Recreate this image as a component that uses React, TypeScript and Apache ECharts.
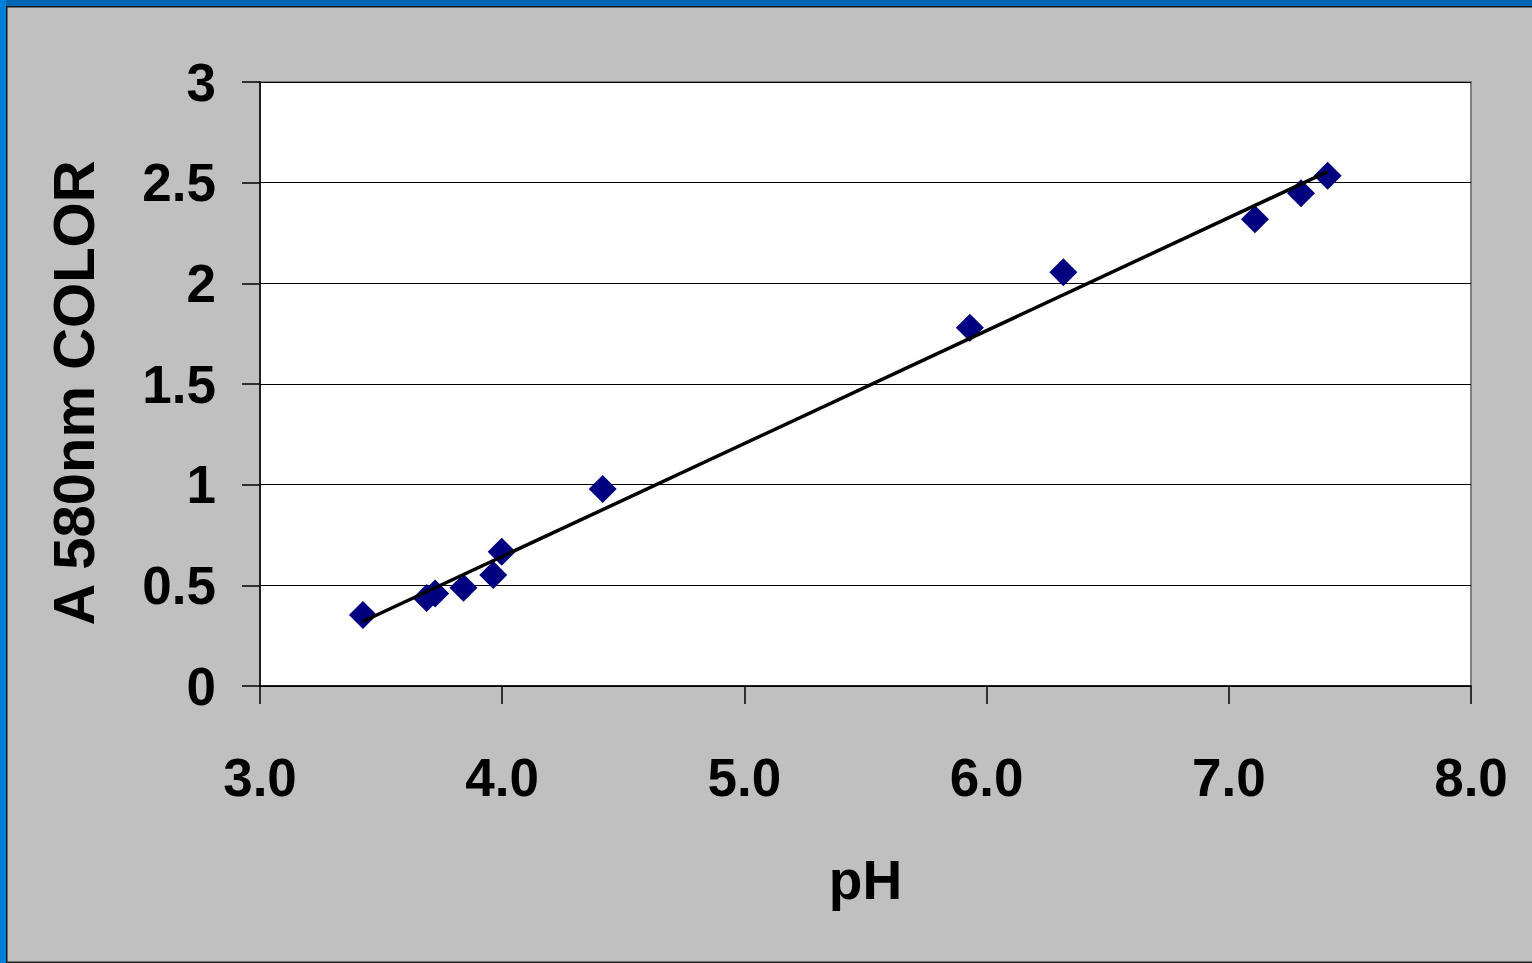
import React, { useEffect, useRef } from "react";
import * as echarts from "echarts";

const phValues = [3.425, 3.688, 3.723, 3.84, 3.963, 3.998, 4.415, 5.931, 6.317, 7.108, 7.298, 7.408];
const absValues = [0.353, 0.437, 0.46, 0.488, 0.551, 0.667, 0.979, 1.78, 2.055, 2.318, 2.448, 2.534];
const trendX = [3.422, 7.408];
const trendY = [0.319, 2.555];
const xTicks = ["3.0", "4.0", "5.0", "6.0", "7.0", "8.0"];
const xTitle = "pH";
const yTitle = "A 580nm COLOR";

const FONT = "'Liberation Sans', Arial, sans-serif";

export default function App() {
  const ref = useRef<HTMLDivElement>(null);
  useEffect(() => {
    if (!ref.current) return;
    const chart = echarts.init(ref.current, undefined, { renderer: "svg" });
    const points = phValues.map((x, i) => [x, absValues[i]]);
    const trend = trendX.map((x, i) => [x, trendY[i]]);
    chart.setOption({
      animation: false,
      backgroundColor: "#c0c0c0",
      textStyle: { fontFamily: FONT },
      graphic: [
        { type: "rect", shape: { x: 0, y: 0, width: 1532, height: 6 }, style: { fill: "#0066b2" }, z: 100 },
        { type: "rect", shape: { x: 0, y: 0, width: 6, height: 963 }, style: { fill: "#0080d8" }, z: 100 },
        { type: "rect", shape: { x: 6, y: 6, width: 1526, height: 1.5 }, style: { fill: "#111820" }, z: 100 },
        { type: "rect", shape: { x: 6, y: 6, width: 1.5, height: 957 }, style: { fill: "#111820" }, z: 100 },
        { type: "rect", shape: { x: 6, y: 961.5, width: 1526, height: 1.5 }, style: { fill: "#222" }, z: 100 },
      ],
      grid: {
        left: 260,
        right: 61,
        top: 82,
        bottom: 277,
        show: true,
        backgroundColor: "#ffffff",
        borderColor: "#808080",
        borderWidth: 2,
      },
      xAxis: {
        type: "value",
        min: 3,
        max: 8,
        interval: 1,
        name: xTitle,
        nameLocation: "middle",
        nameGap: 166,
        nameTextStyle: { fontSize: 55, fontWeight: "bold", color: "#000", fontFamily: FONT },
        axisLine: { lineStyle: { color: "#000", width: 1.5 } },
        axisTick: { show: true, length: 18, lineStyle: { color: "#000", width: 1.5 } },
        axisLabel: {
          fontSize: 53,
          fontWeight: "bold",
          color: "#000",
          margin: 65,
          fontFamily: FONT,
          formatter: (v: number) => xTicks[Math.round(v - 3)] ?? v.toFixed(1),
        },
        splitLine: { show: false },
      },
      yAxis: {
        type: "value",
        min: 0,
        max: 3,
        interval: 0.5,
        name: yTitle,
        nameLocation: "middle",
        nameGap: 158,
        nameRotate: 90,
        nameTextStyle: {
          fontSize: 58,
          fontWeight: "bold",
          color: "#000",
          fontFamily: FONT,
          padding: [0, 18, 0, 0],
        },
        axisLine: { show: true, lineStyle: { color: "#000", width: 1.5 } },
        axisTick: { show: true, length: 18, lineStyle: { color: "#000", width: 1.5 } },
        axisLabel: {
          fontSize: 53,
          fontWeight: "bold",
          color: "#000",
          margin: 44,
          fontFamily: FONT,
        },
        splitLine: { show: true, lineStyle: { color: "#000", width: 1.2 } },
      },
      series: [
        {
          type: "scatter",
          data: points,
          symbol: "diamond",
          symbolSize: 28,
          itemStyle: { color: "#000080", opacity: 1 },
        },
        {
          type: "line",
          data: trend,
          showSymbol: false,
          symbol: "none",
          lineStyle: { color: "#000", width: 3.5 },
        },
      ],
    });
    return () => chart.dispose();
  }, []);
  return (
    <div
      ref={ref}
      style={{ position: "fixed", left: 0, top: 0, width: 1532, height: 963 }}
    />
  );
}
